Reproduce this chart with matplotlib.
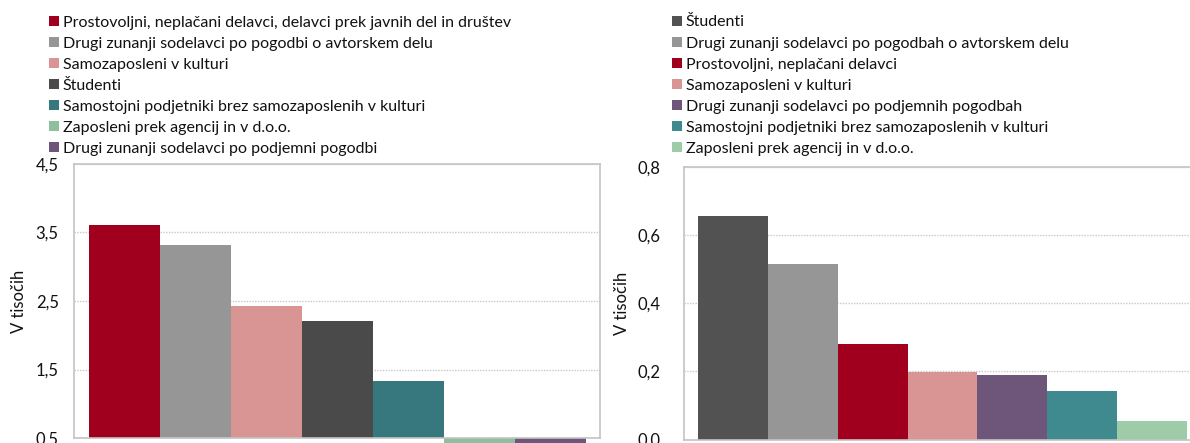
import matplotlib
matplotlib.use('Agg')
import matplotlib.pyplot as plt
from matplotlib.ticker import FuncFormatter

plt.rcParams['font.family'] = ['Lato', 'DejaVu Sans']

# left chart: values in thousands (axis starts at 0,5)
left_labels = [
    'Prostovoljni, neplačani delavci, delavci prek javnih del in društev',
    'Drugi zunanji sodelavci po pogodbi o avtorskem delu',
    'Samozaposleni v kulturi',
    'Študenti',
    'Samostojni podjetniki brez samozaposlenih v kulturi',
    'Zaposleni prek agencij in v d.o.o.',
    'Drugi zunanji sodelavci po podjemni pogodbi',
]
left_values = [3.61, 3.32, 2.43, 2.21, 1.33, 0.25, 0.20]
left_colors = ['#a0001e', '#969696', '#d99594', '#4a4a4a', '#37787f', '#8fbf9f', '#6e567a']
left_ticks = [0.5, 1.5, 2.5, 3.5, 4.5]

# right chart
right_labels = [
    'Študenti',
    'Drugi zunanji sodelavci po pogodbah o avtorskem delu',
    'Prostovoljni, neplačani delavci',
    'Samozaposleni v kulturi',
    'Drugi zunanji sodelavci po podjemnih pogodbah',
    'Samostojni podjetniki brez samozaposlenih v kulturi',
    'Zaposleni prek agencij in v d.o.o.',
]
right_values = [0.656, 0.515, 0.281, 0.199, 0.190, 0.141, 0.053]
right_colors = ['#525252', '#969696', '#a0001e', '#d99594', '#6e567a', '#3f8a8f', '#9ecba8']
right_ticks = [0.0, 0.2, 0.4, 0.6, 0.8]

W, H = 1190, 443
FS = 11.5
comma = FuncFormatter(lambda v, p: f'{v:.1f}'.replace('.', ','))


def style_axes(ax, ticks, ylabel_x):
    ax.set_yticks(ticks)
    ax.yaxis.set_major_formatter(comma)
    ax.set_xticks([])
    ax.tick_params(axis='y', length=0, labelsize=FS + 0.5, pad=11, labelcolor='#111111')
    ax.yaxis.grid(True, linestyle=(0, (1, 1)), color='#c8c8c8', linewidth=1)
    ax.set_axisbelow(True)
    for s in ax.spines.values():
        s.set_color('#c4c4c4')
        s.set_linewidth(1.2)
    ax.set_ylabel('V tisočih', fontsize=FS + 0.5, color='#111111')
    ax.yaxis.set_label_coords(ylabel_x, 0.5)


def add_legend(ax, bars, labels, x_px):
    leg = ax.legend(bars.patches, labels, loc='upper left',
                    bbox_to_anchor=(x_px / W, 1 - 15.5 / H), bbox_transform=ax.figure.transFigure,
                    frameon=False, fontsize=FS, borderpad=0, borderaxespad=0,
                    handlelength=0.6, handleheight=0.6, handletextpad=0.25,
                    labelspacing=0.44)
    for t in leg.get_texts():
        t.set_color('#111111')


fig = plt.figure(figsize=(W / 100, H / 100), dpi=100)

# left panel
ax1 = fig.add_axes([74 / W, 1 - 438 / H, 526 / W, 274 / H])
x = range(len(left_values))
b1 = ax1.bar(x, [v - 0.5 for v in left_values], bottom=0.5, width=1.0,
             color=left_colors, clip_on=False)
ax1.set_xlim(-0.71, 6.7)
ax1.set_ylim(0.5, 4.5)
style_axes(ax1, left_ticks, -0.089)
add_legend(ax1, b1, left_labels, 49)

# right panel (runs off the right edge in the original)
ax2 = fig.add_axes([684 / W, 1 - 439.5 / H, 517 / W, 272.8 / H])
x = range(len(right_values))
b2 = ax2.bar(x, right_values, width=1.0, color=right_colors)
ax2.set_xlim(-0.7, 6.7)
ax2.set_ylim(0, 0.8)
style_axes(ax2, right_ticks, -0.105)
ax2.tick_params(axis='y', pad=17)
add_legend(ax2, b2, right_labels, 672)

fig.savefig('out.png', dpi=100)
